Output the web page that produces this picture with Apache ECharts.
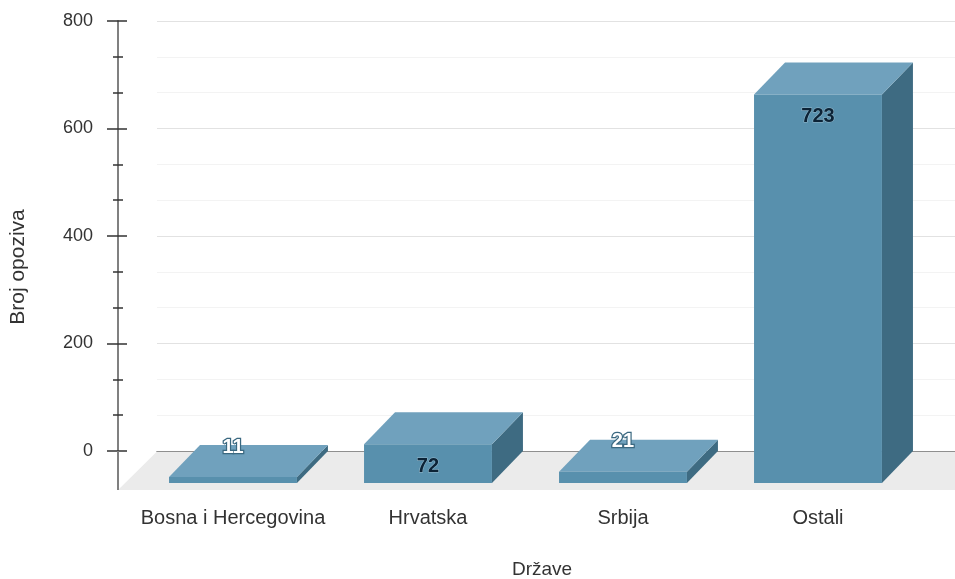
<!DOCTYPE html>
<html>
<head>
<meta charset="utf-8">
<title>Broj opoziva po državama</title>
<script src="https://cdn.jsdelivr.net/npm/echarts@6/dist/echarts.min.js"></script>
<style>
  html, body { margin: 0; padding: 0; background: #ffffff; }
  #chart { width: 955px; height: 579px; }
</style>
</head>
<body>
<div id="chart"></div>
<script>
// Data
const categories = ['Bosna i Hercegovina', 'Hrvatska', 'Srbija', 'Ostali'];
const recalls = [11, 72, 21, 723];

// Value axis ticks
const yMin = 0;
const yMax = 800;
const yStep = 200;
const yMinorSplits = 3;

// Titles
const yTitle = 'Broj opoziva';
const xTitle = 'Države';

// 3D look: offsets from the back plane (where the value axis lives) to the front faces
const BAR_DX = 31, BAR_DY = 32;
const FLOOR_DX = 39, FLOOR_DY = 39;
const BAR_RATIO = 0.656;
// Back-plane x range (category index units) so the floor spans the full width
const X_MIN = -0.5487, X_MAX = 3.5436;

const FONT = '"Liberation Sans", Arial, Helvetica, sans-serif';
const COL_FRONT = '#5890ad';
const COL_TOP = '#70a1bd';
const COL_SIDE = '#3e6b82';
const COL_FLOOR = '#ebebeb';
const COL_AXIS = '#808080';

function renderFloor(params, api) {
  const bl = api.coord([X_MIN, 0]);
  const br = api.coord([X_MAX, 0]);
  const right = br[0] + 60;
  return {
    type: 'group',
    children: [
      {
        type: 'polygon',
        shape: { points: [
          [bl[0], bl[1] + 0.5], [right, bl[1] + 0.5],
          [right - FLOOR_DX, bl[1] + FLOOR_DY], [bl[0] - FLOOR_DX, bl[1] + FLOOR_DY]
        ] },
        style: { fill: COL_FLOOR }
      },
      {
        // value axis continues down to the front edge of the floor
        type: 'line',
        shape: { x1: bl[0] - FLOOR_DX, y1: bl[1], x2: bl[0] - FLOOR_DX, y2: bl[1] + FLOOR_DY },
        style: { stroke: COL_AXIS, lineWidth: 2 }
      }
    ]
  };
}

function renderBar(params, api) {
  const idx = api.value(0);
  const val = api.value(1);
  const top = api.coord([idx, val]);
  const base = api.coord([idx, 0]);
  const w = api.size([1, 0])[0] * BAR_RATIO;
  const bx0 = top[0] - w / 2, bx1 = top[0] + w / 2;
  const by0 = top[1], by1 = base[1];
  const fx0 = bx0 - BAR_DX, fx1 = bx1 - BAR_DX;
  const fy0 = by0 + BAR_DY, fy1 = by1 + BAR_DY;
  const frontH = fy1 - fy0;
  const inside = frontH > 30;
  const labelY = inside ? fy0 + 22 : fy0 - 30;
  return {
    type: 'group',
    children: [
      {
        type: 'polygon',
        shape: { points: [[fx1, fy0], [bx1, by0], [bx1, by1], [fx1, fy1]] },
        style: { fill: COL_SIDE }
      },
      {
        type: 'polygon',
        shape: { points: [[fx0, fy0], [fx1, fy0], [bx1, by0], [bx0, by0]] },
        style: { fill: COL_TOP }
      },
      {
        type: 'rect',
        shape: { x: fx0, y: fy0, width: fx1 - fx0, height: fy1 - fy0 },
        style: { fill: COL_FRONT }
      },
      {
        type: 'text',
        z2: 10,
        style: {
          text: String(val),
          x: (fx0 + fx1) / 2,
          y: labelY,
          align: 'center',
          verticalAlign: 'middle',
          font: 'bold 20px ' + FONT,
          fill: inside ? '#0c2336' : '#ffffff',
          stroke: inside ? 'rgba(255,255,255,0.35)' : '#3a6880',
          lineWidth: inside ? 1 : 2.5
        }
      }
    ]
  };
}

const chart = echarts.init(document.getElementById('chart'), null, { renderer: 'canvas' });

chart.setOption({
  animation: false,
  backgroundColor: '#ffffff',
  textStyle: { fontFamily: FONT },
  grid: [
    { left: 157, right: 0, top: 21, bottom: 128 },   // back plane
    { left: 135.5, width: 780, top: 21, bottom: 97 } // front plane (category labels)
  ],
  xAxis: [
    {
      gridIndex: 0, type: 'value', min: X_MIN, max: X_MAX,
      axisLine: { show: true, onZero: false, lineStyle: { color: '#333333', width: 1 } },
      axisTick: { show: false }, axisLabel: { show: false }, splitLine: { show: false }
    },
    {
      gridIndex: 1, type: 'category', data: categories,
      axisLine: { show: false }, axisTick: { show: false },
      axisLabel: { color: '#333333', fontSize: 20, margin: 26, interval: 0, fontFamily: FONT }
    }
  ],
  yAxis: [
    {
      gridIndex: 0, type: 'value', position: 'left', offset: FLOOR_DX,
      min: yMin, max: yMax, interval: yStep,
      axisLine: { show: true, onZero: false, lineStyle: { color: COL_AXIS, width: 2 } },
      axisTick: { show: true, inside: false, length: 11, lineStyle: { color: '#333333', width: 1.5 } },
      minorTick: { show: true, splitNumber: yMinorSplits, length: 5, lineStyle: { color: '#333333', width: 1.5 } },
      axisLabel: { color: '#333333', fontSize: 18, margin: 25, fontFamily: FONT },
      splitLine: { show: true, lineStyle: { color: '#e2e2e2', width: 1 } },
      minorSplitLine: { show: true, lineStyle: { color: '#f3f3f3', width: 1 } }
    },
    {
      gridIndex: 0, type: 'value', position: 'left', offset: FLOOR_DX,
      min: yMin, max: yMax, interval: yStep,
      axisLine: { show: false, onZero: false },
      axisTick: { show: true, inside: true, length: 9, lineStyle: { color: '#333333', width: 1.5 } },
      minorTick: { show: true, splitNumber: yMinorSplits, length: 5, lineStyle: { color: '#333333', width: 1.5 } },
      axisLabel: { show: false },
      splitLine: { show: false }
    },
    {
      gridIndex: 1, type: 'value', min: yMin, max: yMax, show: false
    }
  ],
  graphic: [
    {
      type: 'text', x: 18, y: 267, rotation: Math.PI / 2,
      style: { text: yTitle, font: '21px ' + FONT, fill: '#333333', align: 'center', verticalAlign: 'middle' }
    },
    {
      type: 'text', x: 542, y: 570,
      style: { text: xTitle, font: '19px ' + FONT, fill: '#333333', align: 'center', verticalAlign: 'middle' }
    }
  ],
  series: [
    {
      type: 'custom', name: 'floor', xAxisIndex: 0, yAxisIndex: 0, z: 1, silent: true,
      renderItem: renderFloor, data: [[0, 0]]
    },
    {
      type: 'custom', name: yTitle, xAxisIndex: 0, yAxisIndex: 0, z: 3,
      renderItem: renderBar,
      data: recalls.map((v, i) => [i, v])
    }
  ]
});
</script>
</body>
</html>
